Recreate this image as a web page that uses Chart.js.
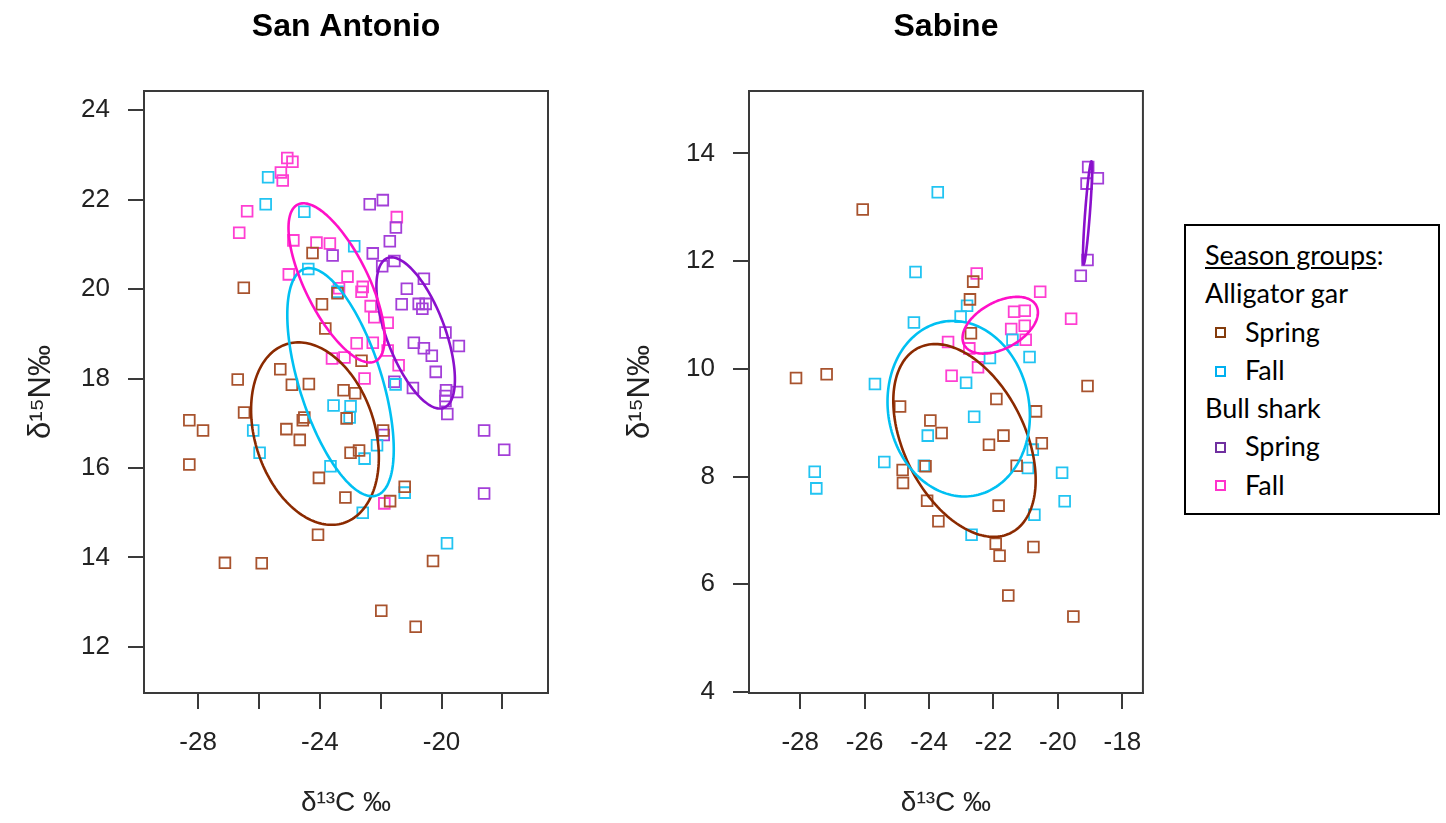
<!DOCTYPE html>
<html lang="en">
<head>
  <meta charset="UTF-8" />
  <title>Season groups - San Antonio and Sabine</title>
  <script src="https://cdn.jsdelivr.net/npm/chart.js"></script>
  <style>
    body {
      margin: 0;
      background: #fff;
      width: 1446px;
      height: 823px;
      overflow: hidden;
      position: relative;
      font-family: "Liberation Sans", Arial, sans-serif;
    }
    canvas {
      position: absolute;
      top: 0;
    }
    #saChart { left: 0; }
    #sbChart { left: 600px; }
    #legend {
      position: absolute;
      left: 1184px;
      top: 224px;
      width: 256px;
      height: 291px;
      border: 2px solid #000;
      padding: 10px 0 0 19px;
      box-sizing: border-box;
      font-family: Lato, "Open Sans", sans-serif;
      font-size: 27px;
      line-height: 38.3px;
      color: #000;
    }
    #legend .item { padding-left: 10px; }
    #legend .mk {
      display: inline-block;
      width: 11px;
      height: 11px;
      border: 2.6px solid;
      box-sizing: border-box;
      margin-right: 19px;
      vertical-align: middle;
      position: relative;
      top: -2px;
    }
  </style>
</head>
<body>
  <canvas id="saChart" width="600" height="823"></canvas>
  <canvas id="sbChart" width="560" height="823"></canvas>
  <div id="legend"></div>

  <script>
    // ---- San Antonio (d13C, d15N) ----
    const saGarSpringX = [-24.24, -26.50, -23.93, -23.82, -23.42, -26.70, -25.30, -24.92, -24.36, -23.22, -22.84, -26.49, -24.51, -24.56, -28.29, -27.84, -25.10, -24.66, -23.12, -28.29, -24.03, -23.16, -22.99, -22.71, -22.63, -21.92, -21.21, -21.69, -24.06, -27.12, -25.91, -20.28, -21.98, -20.85];
    const saGarSpringY = [20.81, 20.03, 19.66, 19.12, 19.91, 17.98, 18.21, 17.86, 17.88, 17.74, 17.67, 17.24, 17.13, 17.07, 17.07, 16.84, 16.87, 16.63, 17.11, 16.08, 15.78, 15.34, 16.34, 16.39, 18.40, 16.84, 15.58, 15.26, 14.51, 13.88, 13.87, 13.92, 12.81, 12.45];
    const saGarFallX = [-25.70, -25.78, -24.51, -24.38, -23.42, -22.87, -21.51, -22.99, -23.02, -23.55, -26.19, -25.98, -23.65, -22.12, -22.53, -21.21, -22.59, -19.82];
    const saGarFallY = [22.50, 21.90, 21.73, 20.45, 19.94, 20.96, 17.87, 17.38, 17.13, 17.40, 16.84, 16.34, 16.04, 16.51, 16.21, 15.45, 15.00, 14.32];
    const saSharkSpringX = [-22.36, -21.93, -21.50, -21.70, -22.26, -21.55, -21.95, -20.58, -21.14, -21.31, -20.75, -20.52, -20.63, -19.87, -23.58, -20.91, -20.58, -20.32, -19.43, -20.19, -21.55, -20.94, -19.85, -19.49, -19.87, -19.87, -19.81, -21.90, -18.60, -17.94, -18.60];
    const saSharkSpringY = [21.90, 21.99, 21.38, 21.07, 20.80, 20.63, 20.51, 20.23, 20.01, 19.66, 19.67, 19.67, 19.56, 19.03, 20.75, 18.80, 18.68, 18.51, 18.73, 18.15, 17.93, 17.79, 17.74, 17.70, 17.61, 17.50, 17.21, 16.74, 16.84, 16.41, 15.43];
    const saSharkFallX = [-25.07, -24.90, -25.28, -25.22, -26.39, -26.65, -24.87, -24.11, -23.67, -25.02, -23.09, -23.37, -22.59, -22.63, -21.47, -22.33, -22.21, -21.77, -22.79, -22.26, -21.77, -21.41, -23.60, -23.19, -22.53, -21.88];
    const saSharkFallY = [22.93, 22.85, 22.61, 22.43, 21.74, 21.26, 21.09, 21.04, 21.02, 20.33, 20.28, 20.02, 20.05, 19.94, 21.61, 19.62, 19.37, 19.25, 18.79, 18.80, 18.63, 18.30, 18.45, 18.47, 18.00, 15.21];

    // ---- Sabine ----
    const sbGarSpringX = [-26.06, -22.63, -22.73, -22.70, -28.13, -27.18, -24.90, -24.82, -24.81, -19.08, -21.91, -20.68, -23.96, -23.61, -22.14, -21.69, -20.50, -21.28, -24.11, -24.06, -21.84, -23.71, -21.93, -20.76, -21.81, -21.54, -19.52];
    const sbGarSpringY = [12.96, 11.62, 11.29, 10.66, 9.83, 9.90, 9.30, 8.12, 7.88, 9.68, 9.44, 9.21, 9.04, 8.81, 8.59, 8.76, 8.62, 8.20, 8.19, 7.55, 7.46, 7.17, 6.75, 6.69, 6.53, 5.79, 5.40];
    const sbGarFallX = [-23.73, -24.42, -24.47, -23.02, -22.82, -21.41, -20.88, -22.11, -25.68, -25.39, -27.55, -27.50, -22.85, -22.60, -24.04, -20.78, -20.93, -19.87, -19.79, -20.73, -24.16, -22.68];
    const sbGarFallY = [13.28, 11.80, 10.86, 10.97, 11.17, 10.54, 10.22, 10.20, 9.72, 8.27, 8.09, 7.78, 9.74, 9.11, 8.76, 8.50, 8.16, 8.07, 7.54, 7.29, 8.20, 6.92];
    const sbSharkSpringX = [-19.06, -18.76, -19.11, -19.08, -19.29];
    const sbSharkSpringY = [13.75, 13.54, 13.44, 12.02, 11.73];
    const sbSharkFallX = [-22.52, -20.55, -21.36, -21.03, -21.45, -21.03, -21.00, -19.59, -23.41, -23.30, -22.48, -22.75];
    const sbSharkFallY = [11.77, 11.43, 11.06, 11.08, 10.74, 10.80, 10.54, 10.93, 10.50, 9.87, 10.03, 10.38];

    // ellipses, order: gar spring, gar fall, shark spring, shark fall
    // centre, half width (x units), half height (y units), correlation
    const saEllipseX = [-24.16, -23.32, -20.85, -23.45];
    const saEllipseY = [16.77, 17.92, 19.02, 20.14];
    const saEllipseW = [2.10, 1.75, 1.29, 1.58];
    const saEllipseH = [2.04, 2.55, 1.69, 1.78];
    const saEllipseR = [-0.26, -0.59, -0.615, -0.69];
    const sbEllipseX = [-22.90, -23.08, -19.08, -21.79];
    const sbEllipseY = [8.67, 9.26, 12.90, 10.81];
    const sbEllipseW = [2.21, 2.21, 0.142, 1.17];
    const sbEllipseH = [1.79, 1.63, 0.955, 0.527];
    const sbEllipseR = [-0.41, -0.08, 0.85, 0.45];

    // ticks
    const saXTicks = [-28, -26, -24, -22, -20, -18];
    const saXLabels = [-28, -24, -20];
    const saYTicks = [12, 14, 16, 18, 20, 22, 24];
    const sbXTicks = [-28, -26, -24, -22, -20, -18];
    const sbXLabels = [-28, -26, -24, -22, -20, -18];
    const sbYTicks = [4, 6, 8, 10, 12, 14];

    const groupNames = ['Alligator gar', 'Bull shark'];
    const seasonNames = ['Spring', 'Fall'];
    const pointColors = ['#a8532e', '#22c4f2', '#a33fd8', '#ff3fd2'];
    const lineColors = ['#8b2a00', '#00c0f2', '#8a10cc', '#ff10c8'];
    const legendColors = ['#843c0c', '#00b0f0', '#7030a0', '#ff33cc'];

    const FONT = '"Liberation Sans", Arial, sans-serif';
    const AXIS = '#3a3a3a';

    function toPoints(xs, ys) {
      return xs.map((x, i) => ({ x: x, y: ys[i] }));
    }

    const framePlugin = {
      id: 'frame',
      afterDraw(chart) {
        const { ctx, chartArea: a } = chart;
        ctx.save();
        ctx.strokeStyle = AXIS;
        ctx.lineWidth = 2;
        ctx.strokeRect(a.left, a.top, a.right - a.left, a.bottom - a.top);
        ctx.restore();
      }
    };

    const ellipsePlugin = {
      id: 'ellipses',
      afterDatasetsDraw(chart, args, opts) {
        const { ctx } = chart;
        const xs = chart.scales.x, ys = chart.scales.y;
        const e = opts.ell;
        ctx.save();
        ctx.lineWidth = 2.6;
        for (let k = 0; k < e.x.length; k++) {
          const s = Math.sqrt(1 - e.r[k] * e.r[k]);
          ctx.strokeStyle = lineColors[k];
          ctx.beginPath();
          for (let i = 0; i <= 180; i++) {
            const t = i / 180 * Math.PI * 2;
            const vx = e.x[k] + e.w[k] * Math.cos(t);
            const vy = e.y[k] + e.h[k] * (e.r[k] * Math.cos(t) + s * Math.sin(t));
            const px = xs.getPixelForValue(vx), py = ys.getPixelForValue(vy);
            if (i === 0) ctx.moveTo(px, py); else ctx.lineTo(px, py);
          }
          ctx.closePath();
          ctx.stroke();
        }
        ctx.restore();
      }
    };

    function makeChart(id, c) {
      return new Chart(document.getElementById(id), {
        type: 'scatter',
        data: {
          datasets: c.series.map((s, k) => ({
            label: s.label,
            data: toPoints(s.x, s.y),
            pointStyle: 'rect',
            pointRadius: 7.6,
            pointBorderWidth: 1.8,
            borderColor: pointColors[k],
            backgroundColor: 'rgba(0,0,0,0)'
          }))
        },
        options: {
          responsive: false,
          animation: false,
          events: [],
          layout: { padding: { left: 0, right: c.padRight, top: 0, bottom: 0 } },
          plugins: {
            legend: { display: false },
            tooltip: { enabled: false },
            title: {
              display: true,
              text: c.title,
              fullSize: false,
              color: '#000',
              font: { family: FONT, size: 32, weight: 'bold' },
              padding: { top: 8, bottom: 44.6 }
            },
            ellipses: { ell: c.ell }
          },
          scales: {
            x: {
              type: 'linear',
              min: c.xMin, max: c.xMax,
              afterBuildTicks: s => { s.ticks = c.xTicks.map(v => ({ value: v })); },
              afterFit: s => { s.height = 130; },
              ticks: {
                font: { family: FONT, size: 26 }, color: '#222', padding: 18,
                maxRotation: 0, autoSkip: false,
                callback: v => c.xLabels.includes(v) ? String(v) : ''
              },
              grid: { drawOnChartArea: false, drawTicks: true, tickLength: 16, color: AXIS, lineWidth: 2 },
              border: { display: true, color: AXIS, width: 2 },
              title: { display: true, text: 'δ¹³C ‰', color: '#222', font: { family: FONT, size: 28 }, padding: { top: 0, bottom: 3 } }
            },
            y: {
              type: 'linear',
              min: c.yMin, max: c.yMax,
              afterBuildTicks: s => { s.ticks = c.yTicks.map(v => ({ value: v })); },
              afterFit: s => { s.width = c.yWidth; },
              ticks: { font: { family: FONT, size: 26 }, color: '#222', padding: 18, autoSkip: false },
              grid: { drawOnChartArea: false, drawTicks: true, tickLength: 16, color: AXIS, lineWidth: 2 },
              border: { display: true, color: AXIS, width: 2 },
              title: { display: true, text: 'δ¹⁵N‰', color: '#222', font: { family: FONT, size: 31 }, padding: { top: c.yTitlePad, bottom: 0 } }
            }
          }
        },
        plugins: [framePlugin, ellipsePlugin]
      });
    }

    makeChart('saChart', {
      title: 'San Antonio',
      padRight: 52, yWidth: 144, yTitlePad: 23,
      xMin: -29.78, xMax: -16.5, yMin: 10.97, yMax: 24.43,
      xTicks: saXTicks, xLabels: saXLabels, yTicks: saYTicks,
      series: [
        { label: 'Alligator gar Spring', x: saGarSpringX, y: saGarSpringY },
        { label: 'Alligator gar Fall', x: saGarFallX, y: saGarFallY },
        { label: 'Bull shark Spring', x: saSharkSpringX, y: saSharkSpringY },
        { label: 'Bull shark Fall', x: saSharkFallX, y: saSharkFallY }
      ],
      ell: { x: saEllipseX, y: saEllipseY, w: saEllipseW, h: saEllipseH, r: saEllipseR }
    });

    makeChart('sbChart', {
      title: 'Sabine',
      padRight: 7, yWidth: 149, yTitlePad: 22,
      xMin: -29.59, xMax: -17.36, yMin: 3.98, yMax: 15.16,
      xTicks: sbXTicks, xLabels: sbXLabels, yTicks: sbYTicks,
      series: [
        { label: 'Alligator gar Spring', x: sbGarSpringX, y: sbGarSpringY },
        { label: 'Alligator gar Fall', x: sbGarFallX, y: sbGarFallY },
        { label: 'Bull shark Spring', x: sbSharkSpringX, y: sbSharkSpringY },
        { label: 'Bull shark Fall', x: sbSharkFallX, y: sbSharkFallY }
      ],
      ell: { x: sbEllipseX, y: sbEllipseY, w: sbEllipseW, h: sbEllipseH, r: sbEllipseR }
    });

    // legend box
    const legend = document.getElementById('legend');
    let html = '<div><u>Season groups</u>:</div>';
    groupNames.forEach((g, gi) => {
      html += `<div>${g}</div>`;
      seasonNames.forEach((s, si) => {
        html += `<div class="item"><span class="mk" style="border-color:${legendColors[gi * 2 + si]}"></span>${s}</div>`;
      });
    });
    legend.innerHTML = html;
  </script>
</body>
</html>
